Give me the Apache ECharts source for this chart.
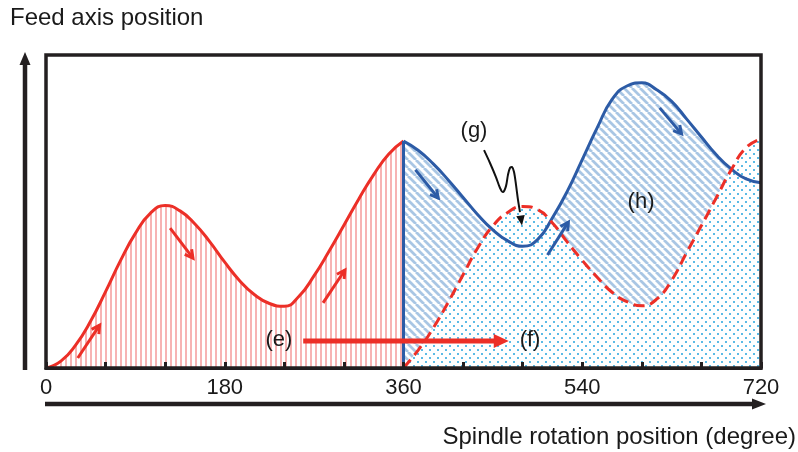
<!DOCTYPE html>
<html><head><meta charset="utf-8">
<script src="https://cdn.jsdelivr.net/npm/echarts@6/dist/echarts.min.js"></script>
<style>html,body{margin:0;padding:0;background:#fff}#c{width:798px;height:452px}</style>
</head><body><div id="c"></div>
<script>
// ---- data (x in degrees, y in arbitrary feed-position units 0..100) ----
const redDeg  = [0,15,30,45,60,75,90,105,120,135,150,165,180,195,210,225,240,255,270,285,300,315,330,345,360];
const redPos  = [0,2.2,7.4,15.0,24.4,34.3,43.0,49.4,51.9,50.2,46.0,40.3,33.8,27.9,23.4,20.6,19.7,23.0,29.5,37.3,45.6,54.0,61.8,68.3,72.5];
const blueDeg = [360,375,390,405,420,435,450,465,480,495,510,525,540,555,570,585,600,615,630,645,660,675,690,705,720];
const bluePos = [72.5,69.5,65.2,60.1,54.5,48.9,44.1,40.6,38.9,41.0,48.0,56.5,66.6,76.7,85.8,90.1,91.1,88.9,85.2,79.6,73.8,68.1,63.6,60.4,59.2];
const dashPos = [0,5.8,12.8,21.0,29.8,38.5,45.4,49.7,51.6,50.6,46.3,40.2,34.4,29.0,24.2,21.2,19.9,22.0,28.0,36.8,45.5,54.4,63.3,70.4,73.2];
const xTickLabels = {0:'0',180:'180',360:'360',540:'540',720:'720'};

// annotation anchors (data units)
const redArrows  = [[[32,3.2],[54,13.7]],[[125,44.7],[148,35.1]],[[279,20.8],[301,31.3]]];
const blueArrows = [[[372,63.3],[395,54.3]],[[505,36.1],[526,46.6]],[[618,83.1],[640,74.8]]];
const efArrow = [[259,8.6],[466,8.6]];
const labels = [['(e)',234.6,8.9],['(f)',487.4,8.9],['(g)',431,75.7],['(h)',599.2,53.0]];
const gPath = [[441.1,69.6],[447.1,65.5],[453.1,61.0],[457.2,57.5],[460.2,56.2],[463.2,58.1],[465.2,61.7],[467.2,63.9],[469.3,64.2],[471.3,62.6],[473.3,58.5],[475.3,53.7],[477.3,49.8]];
const gTip = [479.3,45.5];

const RED='#ec2f27', BLUE='#2c5ba6', INK='#231f20';
const FONT='"Liberation Sans", Arial, Helvetica, sans-serif';

function pat(w,h,draw){const c=document.createElement('canvas');c.width=w;c.height=h;const g=c.getContext('2d');draw(g);return c;}
const vStripe = pat(5,4,g=>{g.fillStyle='#f7b3b3';g.fillRect(0,0,2,4);});
const dStripe = pat(8,8,g=>{g.strokeStyle='#a9c6e4';g.lineWidth=2.8;g.beginPath();for(const k of [-8,0,8]){g.moveTo(k,0);g.lineTo(k+8,8);}g.stroke();});
const dots = pat(8,8,g=>{g.fillStyle='#fff';g.fillRect(0,0,8,8);g.fillStyle='#5cbbe6';g.fillRect(1,1,2,2);g.fillRect(5,5,2,2);});

const zip=(xs,ys)=>xs.map((x,i)=>[x,ys[i]]);
const chart = echarts.init(document.getElementById('c'),null,{renderer:'canvas'});
const G={left:46,top:55,width:715,height:313};
const SM=0.5;
chart.setOption({
  animation:false,
  grid:{left:G.left,top:G.top,width:G.width,height:G.height,show:false},
  xAxis:{type:'value',min:0,max:720,interval:60,z:10,
    axisLine:{show:true,lineStyle:{color:INK,width:3}},
    axisTick:{show:true,inside:true,length:6,lineStyle:{color:INK,width:3}},
    axisLabel:{formatter:v=>xTickLabels[v]||'',fontSize:22,color:'#1a1a1a',margin:9,fontFamily:FONT,showMinLabel:true,showMaxLabel:true},
    splitLine:{show:false}},
  yAxis:{type:'value',min:0,max:100,show:false},
  series:[
    {type:'line',data:zip(redDeg,redPos),smooth:SM,symbol:'none',lineStyle:{color:RED,width:3},areaStyle:{color:{image:vStripe,repeat:'repeat'},opacity:1},z:2},
    {type:'line',data:zip(blueDeg,bluePos),smooth:SM,symbol:'none',lineStyle:{width:0,opacity:0},areaStyle:{color:{image:dStripe,repeat:'repeat'},opacity:1},z:2},
    {type:'line',data:zip(blueDeg,dashPos),smooth:SM,symbol:'none',lineStyle:{width:0,opacity:0},areaStyle:{color:{image:dots,repeat:'repeat'},opacity:1},z:3},
    {type:'line',data:zip(blueDeg,bluePos),smooth:SM,symbol:'none',lineStyle:{color:BLUE,width:3},z:5,
      markLine:{silent:true,symbol:'none',label:{show:false},lineStyle:{color:BLUE,width:3,type:'solid'},
        data:[[{coord:[blueDeg[0],0]},{coord:[blueDeg[0],bluePos[0]]}]]}},
    {type:'line',data:zip(blueDeg,dashPos),smooth:SM,symbol:'none',lineStyle:{color:RED,width:3,type:[11,6]},z:6}
  ]
});

const px=p=>chart.convertToPixel({gridIndex:0},p);
function head(tip,ang,len,spread){return [[tip[0]-len*Math.cos(ang-spread),tip[1]-len*Math.sin(ang-spread)],tip,[tip[0]-len*Math.cos(ang+spread),tip[1]-len*Math.sin(ang+spread)]];}
const gr=[];
function chevron(a,b,color){const p0=px(a),p1=px(b);const ang=Math.atan2(p1[1]-p0[1],p1[0]-p0[0]);
  gr.push({type:'line',z:50,shape:{x1:p0[0],y1:p0[1],x2:p1[0],y2:p1[1]},style:{stroke:color,lineWidth:3}});
  gr.push({type:'polyline',z:50,shape:{points:head(p1,ang,9,0.5)},style:{stroke:color,lineWidth:3,fill:null,lineJoin:'miter'}});}
redArrows.forEach(a=>chevron(a[0],a[1],RED));
blueArrows.forEach(a=>chevron(a[0],a[1],BLUE));
{const p0=px(efArrow[0]),p1=px(efArrow[1]);
 gr.push({type:'line',z:50,shape:{x1:p0[0],y1:p0[1],x2:p1[0]-13,y2:p1[1]},style:{stroke:RED,lineWidth:5}});
 gr.push({type:'polygon',z:50,shape:{points:[[p1[0],p1[1]],[p1[0]-15,p1[1]-7],[p1[0]-15,p1[1]+7]]},style:{fill:RED}});}
{const pts=gPath.map(px);const t=px(gTip);const last=pts[pts.length-1];
 gr.push({type:'polyline',z:50,shape:{points:pts,smooth:0.3},style:{stroke:'#111',lineWidth:2,fill:null}});
 const ang=Math.atan2(t[1]-last[1],t[0]-last[0]);const h=head(t,ang,11,0.4);
 gr.push({type:'polygon',z:50,shape:{points:[h[0],h[1],h[2]]},style:{fill:'#111'}});}
labels.forEach(l=>{const p=px([l[1],l[2]]);gr.push({type:'text',z:60,style:{text:l[0],x:p[0],y:p[1],font:'22px '+FONT,fill:'#1a1a1a',textAlign:'center',textVerticalAlign:'middle'}});});
// frame and axis arrows
gr.push({type:'rect',z:40,shape:{x:G.left,y:G.top,width:G.width,height:G.height},style:{stroke:INK,lineWidth:3.5,fill:null}});
gr.push({type:'line',z:40,shape:{x1:25,y1:370,x2:25,y2:62},style:{stroke:INK,lineWidth:4.5}});
gr.push({type:'polygon',z:40,shape:{points:[[25,52],[19.5,65],[30.5,65]]},style:{fill:INK}});
gr.push({type:'line',z:40,shape:{x1:45,y1:404,x2:754,y2:404},style:{stroke:INK,lineWidth:4.5}});
gr.push({type:'polygon',z:40,shape:{points:[[766,404],[752,398.5],[752,409.5]]},style:{fill:INK}});
gr.push({type:'text',z:60,style:{text:'Feed axis position',x:10,y:18,font:'24px '+FONT,fill:'#1a1a1a',textAlign:'left',textVerticalAlign:'middle'}});
gr.push({type:'text',z:60,style:{text:'Spindle rotation position (degree)',x:796,y:437,font:'24px '+FONT,fill:'#1a1a1a',textAlign:'right',textVerticalAlign:'middle'}});
chart.setOption({graphic:gr});
</script></body></html>
